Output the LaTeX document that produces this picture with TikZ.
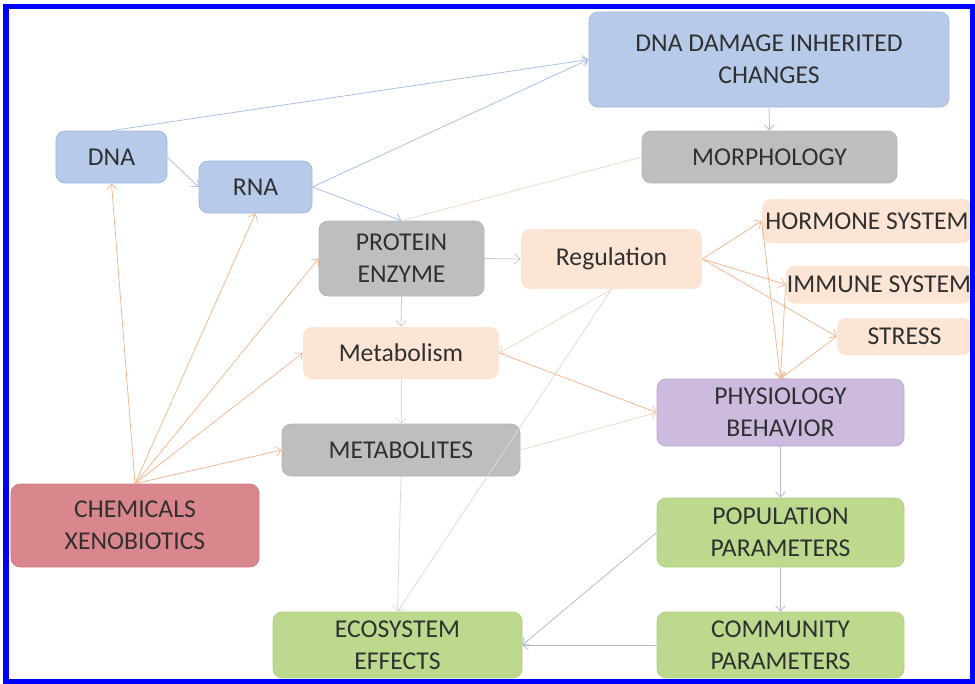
\documentclass[tikz,border=0pt]{standalone}
\usepackage{fontspec}
\setmainfont{Carlito}
\usetikzlibrary{arrows.meta}
\definecolor{txtgray}{HTML}{303030}
\definecolor{fillblue}{HTML}{B7CAE9}
\definecolor{edgeblue}{HTML}{A2B8DE}
\definecolor{fillgray}{HTML}{BEBEBE}
\definecolor{edgegray}{HTML}{B4B4B4}
\definecolor{fillpeach}{HTML}{FCE5D5}
\definecolor{fillred}{HTML}{DA868D}
\definecolor{edgered}{HTML}{D07C84}
\definecolor{filllilac}{HTML}{CCBBDF}
\definecolor{edgelilac}{HTML}{B8A7D0}
\definecolor{fillgreen}{HTML}{BCD98E}
\definecolor{edgegreen}{HTML}{B0CE83}
\definecolor{lineblue}{HTML}{AAC1E6}
\definecolor{lineorange}{HTML}{F3B893}
\definecolor{linepeach}{HTML}{F4D6C2}
\definecolor{linegray}{HTML}{C8C8C8}
\definecolor{linepale}{HTML}{DEDAD5}
\definecolor{linelilac}{HTML}{B8B8D6}
\definecolor{framblue}{HTML}{0000FF}
\begin{document}
\begin{tikzpicture}[x=0.2mm, y=-0.2mm,
  every node/.append style={font=\fontsize{14.6}{18.2}\selectfont, text=txtgray, align=center},
  box/.style={rounded corners=1.8mm, inner sep=0pt, line width=0.4pt},
  bluebox/.style={box, fill=fillblue, draw=edgeblue},
  graybox/.style={box, fill=fillgray, draw=edgegray},
  peachbox/.style={box, fill=fillpeach},
  chembox/.style={box, fill=fillred, draw=edgered},
  physbox/.style={box, fill=filllilac, draw=edgelilac},
  greenbox/.style={box, fill=fillgreen, draw=edgegreen},
  conn/.style={line width=0.45pt, -{Straight Barb[length=1.1mm, width=2mm]}},
  bluearr/.style={conn, lineblue},
  orangearr/.style={conn, lineorange},
  peacharr/.style={conn, linepeach},
  grayarr/.style={conn, linegray},
  palearr/.style={conn, linepale},
  lilacarr/.style={conn, linelilac}]
  \useasboundingbox (0,0) rectangle (975,683);
  % boxes
  \node[bluebox, minimum width=72mm, minimum height=19mm] (dmg) at (769,59.5) {DNA DAMAGE INHERITED\\CHANGES};
  \node[graybox, minimum width=51mm, minimum height=10.4mm] (morph) at (769.5,157) {MORPHOLOGY};
  \node[bluebox, minimum width=22.2mm, minimum height=10.4mm] (dna) at (111.5,157) {DNA};
  \node[bluebox, minimum width=22.6mm, minimum height=10.4mm] (rna) at (255.5,187) {RNA};
  \node[graybox, minimum width=33mm, minimum height=15mm] (prot) at (401.5,258.5) {PROTEIN\\ENZYME};
  \node[peachbox, minimum width=36.2mm, minimum height=12mm] (reg) at (611.5,259) {Regulation};
  \node[peachbox, minimum width=42mm, minimum height=8.8mm] (horm) at (867,221) {HORMONE SYSTEM};
  \node[peachbox, minimum width=37.2mm, minimum height=7.6mm] (imm) at (879,284.5) {IMMUNE SYSTEM};
  \node[peachbox, minimum width=27mm, minimum height=7.4mm] (stress) at (904.5,336.5) {STRESS};
  \node[peachbox, minimum width=39.2mm, minimum height=10.4mm] (metab) at (401,353) {Metabolism};
  \node[graybox, minimum width=47.6mm, minimum height=10.4mm] (metlt) at (401,450) {METABOLITES};
  \node[chembox, minimum width=49.6mm, minimum height=16.6mm] (chem) at (135,525.5) {CHEMICALS\\XENOBIOTICS};
  \node[physbox, minimum width=49.4mm, minimum height=13.4mm] (phys) at (780.5,412.5) {PHYSIOLOGY\\BEHAVIOR};
  \node[greenbox, minimum width=49.4mm, minimum height=13.8mm] (pop) at (780.5,532.5) {POPULATION\\PARAMETERS};
  \node[greenbox, minimum width=49.4mm, minimum height=13.2mm] (comm) at (780.5,645) {COMMUNITY\\PARAMETERS};
  \node[greenbox, minimum width=49.8mm, minimum height=13.2mm] (eco) at (397.5,645) {ECOSYSTEM\\EFFECTS};
  % genetic path
  \draw[bluearr] (dna.north) -- (dmg.west);
  \draw[bluearr] (rna.east) -- (dmg.west);
  \draw[bluearr] (dna.east) -- (rna.west);
  \draw[bluearr] (rna.east) -- (prot.north);
  \draw[bluearr] (dmg.south) -- (morph.north);
  \draw[linepeach, line width=0.45pt] (morph.west) -- (prot.north);
  % protein and metabolism
  \draw[grayarr] (prot.east) -- (reg.west);
  \draw[grayarr] (prot.south) -- (metab.north);
  \draw[palearr] (metab.south) -- (metlt.north);
  \draw[palearr] (metlt.south) -- (eco.north);
  \draw[peacharr] (reg.south) -- (metab.east);
  \draw[palearr] (reg.south) -- (eco.north);
  \draw[orangearr] (metab.east) -- (phys.west);
  \draw[peacharr] (metlt.east) -- (phys.west);
  % regulation targets
  \foreach \t in {horm, imm, stress} {
    \draw[orangearr] (reg.east) -- (\t.west);
    \draw[orangearr] (\t.west) -- (phys.north);
  }
  % chemicals
  \foreach \t/\a in {dna/south, rna/south, prot/west, metab/west, metlt/west}
    \draw[orangearr] (chem.north) -- (\t.\a);
  % ecology
  \draw[lilacarr] (phys.south) -- (pop.north);
  \draw[lilacarr] (pop.south) -- (comm.north);
  \draw[lilacarr] (pop.west) -- (eco.east);
  \draw[lilacarr] (comm.west) -- (eco.east);
  % frame
  \draw[framblue, line width=1mm] (6,6) rectangle (972,681);
\end{tikzpicture}
\end{document}
